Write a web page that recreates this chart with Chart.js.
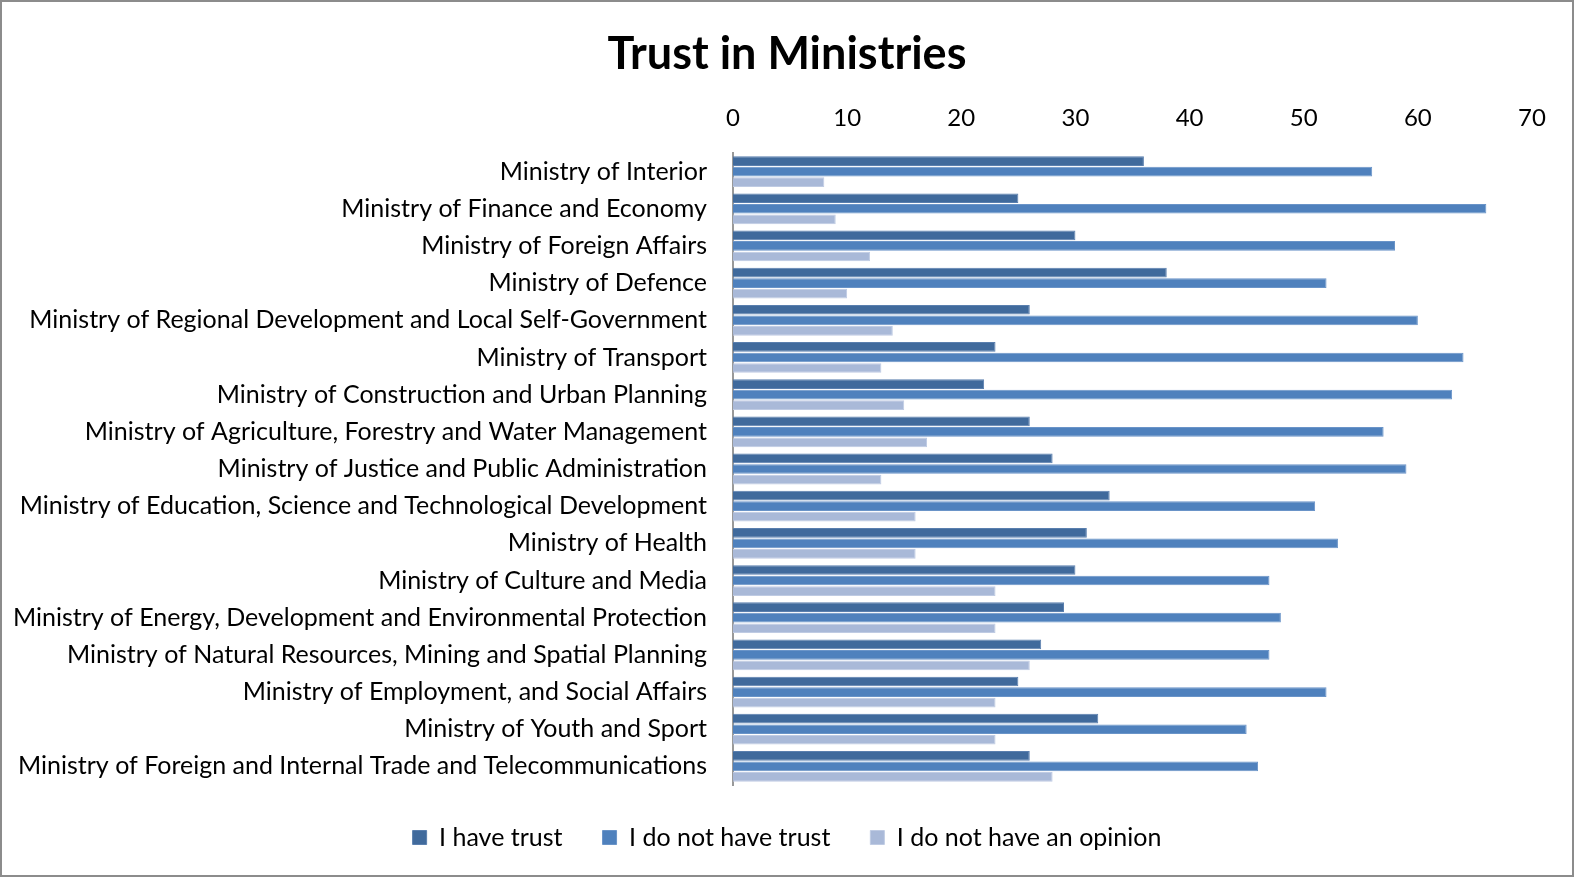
<!DOCTYPE html>
<html>
<head>
<meta charset="utf-8">
<script src="https://cdn.jsdelivr.net/npm/chart.js@4/dist/chart.umd.min.js"></script>
<style>
  html, body { margin: 0; padding: 0; background: #fff; }
  #frame { position: absolute; left: 0; top: 0; width: 1574px; height: 877px; box-sizing: border-box; border: 2px solid #8c8c8c; }
  #wrap { position: absolute; left: 0; top: 0; width: 1574px; height: 877px; }
</style>
</head>
<body>
<div id="wrap"><canvas id="c" width="1574" height="877"></canvas></div>
<div id="frame"></div>
<script>
const categories = [
  "Ministry of Interior",
  "Ministry of Finance and Economy",
  "Ministry of Foreign Affairs",
  "Ministry of Defence",
  "Ministry of Regional Development and Local Self-Government",
  "Ministry of Transport",
  "Ministry of Construction and Urban Planning",
  "Ministry of Agriculture, Forestry and Water Management",
  "Ministry of Justice and Public Administration",
  "Ministry of Education, Science and Technological Development",
  "Ministry of Health",
  "Ministry of Culture and Media",
  "Ministry of Energy, Development and Environmental Protection",
  "Ministry of Natural Resources, Mining and Spatial Planning",
  "Ministry of Employment, and Social Affairs",
  "Ministry of Youth and Sport",
  "Ministry of Foreign and Internal Trade and Telecommunications"
];
const haveTrust   = [36, 25, 30, 38, 26, 23, 22, 26, 28, 33, 31, 30, 29, 27, 25, 32, 26];
const noTrust     = [56, 66, 58, 52, 60, 64, 63, 57, 59, 51, 53, 47, 48, 47, 52, 45, 46];
const noOpinion   = [ 8,  9, 12, 10, 14, 13, 15, 17, 13, 16, 16, 23, 23, 26, 23, 23, 28];
const seriesNames = ["I have trust", "I do not have trust", "I do not have an opinion"];
const xTicks = [0, 10, 20, 30, 40, 50, 60, 70];

const FONT = "Lato";
const colors = ["#406a9c", "#4f81bd", "#a9b9d8"];
const edges  = ["#5a7fae", "#6a94c8", "#bfcbe3"];

// Title and legend are centred on the whole canvas, not on the padded layout area
const centerOnCanvas = {
  id: "centerOnCanvas",
  afterLayout(chart) {
    [chart.titleBlock, chart.legend].forEach(b => {
      if (!b) return;
      b.left = 0;
      b.right = chart.width;
      b.width = chart.width;
    });
  }
};

new Chart(document.getElementById("c"), {
  type: "bar",
  data: {
    labels: categories,
    datasets: [haveTrust, noTrust, noOpinion].map((d, i) => ({
      label: seriesNames[i],
      data: d,
      backgroundColor: colors[i],
      borderColor: edges[i],
      borderWidth: 1,
      categoryPercentage: 0.85,
      barPercentage: 0.92
    }))
  },
  plugins: [centerOnCanvas],
  options: {
    indexAxis: "y",
    responsive: false,
    animation: false,
    layout: { padding: { left: 10, right: 42, top: 0, bottom: 17 } },
    scales: {
      x: {
        position: "top",
        min: 0, max: 70,
        afterBuildTicks: s => { s.ticks = xTicks.map(v => ({ value: v })); },
        afterFit: s => { s.height = 72; },
        grid: { display: false },
        border: { display: false },
        ticks: { color: "#000", font: { family: FONT, size: 24 }, padding: 12 }
      },
      y: {
        afterFit: s => { s.width = 723; },
        grid: { display: false, drawTicks: false },
        border: { display: true, color: "#999", width: 2 },
        ticks: { color: "#000", font: { family: FONT, size: 25 }, padding: 26 }
      }
    },
    plugins: {
      title: {
        display: true,
        text: "Trust in Ministries",
        color: "#000",
        font: { family: FONT, size: 45, weight: "bold" },
        padding: { top: 27, bottom: 0 }
      },
      legend: {
        position: "bottom",
        labels: {
          color: "#000",
          font: { family: FONT, size: 25 },
          boxWidth: 14, boxHeight: 14,
          padding: 40
        }
      },
      tooltip: { enabled: false }
    }
  }
});
</script>
</body>
</html>
